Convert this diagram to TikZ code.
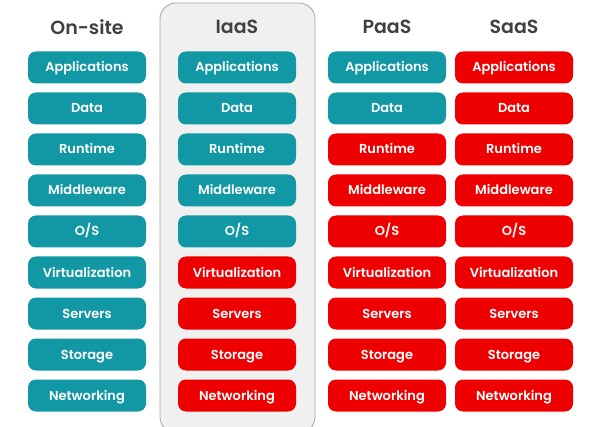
\documentclass[tikz,border=0pt]{standalone}
\usepackage{fontspec}
\setmainfont{Poppins}[BoldFont={Poppins SemiBold}]
\definecolor{verdeazul}{RGB}{17,152,164}
\definecolor{rojohat}{RGB}{238,0,0}
\definecolor{grisfondo}{RGB}{240,240,240}
\definecolor{gristexto}{RGB}{64,64,64}
\begin{document}
\begin{tikzpicture}[
    x=1pt, y=-1pt,
    capa/.style={rounded corners=8pt, minimum width=118pt, minimum height=32pt,
      inner sep=0pt, text height=9pt, text depth=0pt, text=white,
      font=\fontsize{13}{15}\selectfont\bfseries},
    propia/.style={capa, fill=verdeazul},
    gestionada/.style={capa, fill=rojohat},
    titulo/.style={text=gristexto, font=\fontsize{19}{22}\selectfont\bfseries}
  ]

    % --- Marco de la imagen ---
    \useasboundingbox (0,0) rectangle (596,427);

    % --- Parámetros ---
    \def\yIni{67.5}  % centro de la primera capa
    \def\dy{41}      % separación entre capas

    % Fondo resaltado de IaaS
    \draw[fill=grisfondo, draw=gray!70, thick, rounded corners=16pt]
      (160,3) rectangle (315,433);

    % --- Columnas ---
    % \n = número de capas propias (en verde azulado)
    \foreach \col/\x/\n [count=\j] in {On-site/87/9, IaaS/237/5, PaaS/387/2, SaaS/514/0} {
      \node[titulo] (titulo\j) at (\x,27) {\col};
      \foreach \capa [count=\i] in {Applications, Data, Runtime, Middleware, O/S,
          Virtualization, Servers, Storage, Networking} {
        \pgfmathsetmacro{\y}{\yIni + (\i-1)*\dy}
        \ifnum\i>\n
          \node[gestionada] (c\j-\i) at (\x,\y) {\capa};
        \else
          \node[propia] (c\j-\i) at (\x,\y) {\capa};
        \fi
      }
    }

  \end{tikzpicture}
\end{document}
